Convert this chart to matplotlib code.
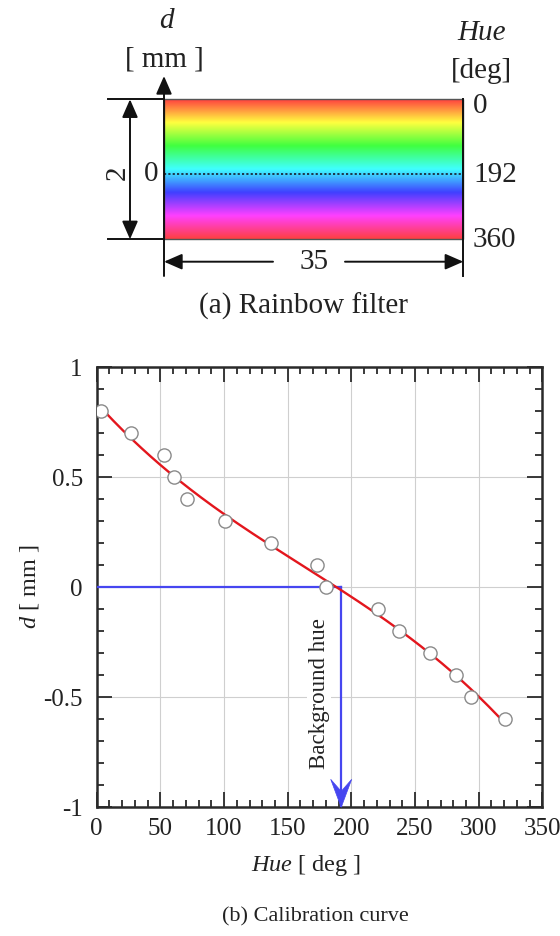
import numpy as np
import matplotlib
matplotlib.use("Agg")
import matplotlib.pyplot as plt
from matplotlib.patches import Rectangle, Polygon
from matplotlib.colors import hsv_to_rgb
from matplotlib.ticker import MultipleLocator
import matplotlib.transforms as mtransforms

plt.rcParams['font.family'] = ['Liberation Serif', 'DejaVu Serif']
plt.rcParams['mathtext.fontset'] = 'custom'
plt.rcParams['mathtext.rm'] = 'Liberation Serif'
plt.rcParams['mathtext.it'] = 'Liberation Serif:italic'

# ---- data ----
filter_width_mm = 35
filter_height_mm = 2
hue_marks = [0, 192, 360]
background_hue = 192

hue_pts = [3, 27, 53, 61, 71, 101, 137, 173, 180, 221, 237, 262, 282, 294, 321]
d_pts = [0.80, 0.70, 0.60, 0.50, 0.40, 0.30, 0.20, 0.10, 0.00,
         -0.10, -0.20, -0.30, -0.40, -0.50, -0.60]
fit_range = [6, 317]

x_ticks = [0, 50, 100, 150, 200, 250, 300, 350]
y_ticks = [-1, -0.5, 0, 0.5, 1]
y_tick_labels = ['-1', '-0.5', '0', '0.5', '1']

W, H = 560, 936
fig = plt.figure(figsize=(W / 100, H / 100), dpi=100)

# ================= (a) rainbow filter diagram =================
TOP_H = 320
ax_a = fig.add_axes([0, 1 - TOP_H / H, 1, TOP_H / H])
ax_a.axis('off')

# filter placement inside the top strip (pixels)
L, R, T, B = 164.0, 463.3, 99.3, 239.3
sx = (R - L) / filter_width_mm
sy = (B - T) / hue_marks[-1]


def mx(px):
    return (px - L) / sx


def hy(py):
    return (py - T) / sy


hue_col = np.linspace(hue_marks[0], hue_marks[-1], 400)
hsv = np.stack([hue_col / 360.0 % 1.0,
                np.full_like(hue_col, 0.75),
                np.ones_like(hue_col)], axis=-1)
rgb = hsv_to_rgb(hsv)[:, None, :]
ax_a.imshow(rgb, extent=[0, filter_width_mm, hue_marks[-1], hue_marks[0]],
            aspect='auto', interpolation='bilinear', zorder=1)
ax_a.add_patch(Rectangle((0, 0), filter_width_mm, hue_marks[-1], fill=False,
                         ec='#555555', lw=1.0, zorder=2))
ax_a.plot([0, filter_width_mm], [background_hue, background_hue],
          color='#1a2a3a', lw=1.3, ls=(0, (1.2, 1.2)), zorder=3)

ax_a.set_xlim(mx(0), mx(W))
ax_a.set_ylim(hy(TOP_H), hy(0))

lk = dict(color='#111111', lw=1.4)
arrow = dict(arrowstyle='-|>,head_length=0.55,head_width=0.24',
             color='#111111', lw=1.4, shrinkA=0, shrinkB=0,
             mutation_scale=20)
darrow = dict(arrowstyle='<|-|>,head_length=0.55,head_width=0.24',
              color='#111111', lw=1.4, shrinkA=0, shrinkB=0,
              mutation_scale=20)

# d axis with arrow
ax_a.annotate('', xy=(0, hy(76)), xytext=(0, hy(276)), arrowprops=arrow)
# right extension line
ax_a.plot([filter_width_mm, filter_width_mm], [0, hy(276)], **lk)
# left extension lines
ax_a.plot([mx(108), 0], [0, 0], **lk)
ax_a.plot([mx(108), 0], [hue_marks[-1], hue_marks[-1]], **lk)
# height dimension
ax_a.annotate('', xy=(mx(130), 0), xytext=(mx(130), hue_marks[-1]),
              arrowprops=darrow)
# width dimension
ax_a.annotate('', xy=(0, hy(261.7)), xytext=(mx(273), hy(261.7)),
              arrowprops=arrow)
ax_a.annotate('', xy=(filter_width_mm, hy(261.7)), xytext=(mx(345), hy(261.7)),
              arrowprops=arrow)

fs_a = 21
tc = '#222222'
ax_a.text(mx(118), hy(173), str(filter_height_mm), rotation=90, fontsize=fs_a,
          ha='center', va='center', color=tc)
ax_a.text(mx(151), background_hue, '0', fontsize=fs_a, ha='center',
          va='center', color=tc)
ax_a.text(mx(166), hy(21), 'd', fontsize=fs_a, style='italic',
          ha='center', va='center', color=tc)
ax_a.text(mx(164), hy(59), '[ mm ]', fontsize=fs_a, ha='center',
          va='center', color=tc)
ax_a.text(mx(482), hy(33), 'Hue', fontsize=fs_a, style='italic',
          ha='center', va='center', color=tc)
ax_a.text(mx(481), hy(71), '[deg]', fontsize=fs_a, ha='center',
          va='center', color=tc)
for h, py in zip(hue_marks, [106, 175, 240]):
    ax_a.text(mx(473), hy(py), str(h), fontsize=fs_a, ha='left',
              va='center', color=tc)
ax_a.text(filter_width_mm / 2, hy(262), str(filter_width_mm), fontsize=fs_a,
          ha='center', va='center', color=tc)
ax_a.text(mx(303), hy(306), '(a) Rainbow filter', fontsize=fs_a,
          ha='center', va='center', color=tc)

# ================= (b) calibration curve =================
ax = fig.add_axes([96.7 / W, 1 - 807.3 / H, 445.7 / W, 440.0 / H])
ax.set_xlim(0, 350)
ax.set_ylim(-1, 1)

coef = np.polyfit(hue_pts, d_pts, 3)
xf = np.linspace(fit_range[0], fit_range[1], 300)
ax.plot(xf, np.polyval(coef, xf), color='#e3161d', lw=1.7, zorder=3)
ax.plot(hue_pts, d_pts, 'o', ms=9.5, mfc='white', mec='#8a8a8a', mew=1.0,
        zorder=4)

blue = '#4646f0'
ax.plot([0, background_hue], [0, 0], color=blue, lw=1.6, zorder=2.6)
notch_in = 0.16
ax.plot([background_hue, background_hue], [0, -1], color=blue, lw=1.6,
        zorder=2.6)
head_tr = fig.dpi_scale_trans + mtransforms.ScaledTranslation(
    background_hue, -1, ax.transData)
ax.add_patch(Polygon([(0, 0), (0.105, 0.28), (0, notch_in), (-0.105, 0.28)],
                     closed=True, transform=head_tr, fc=blue, ec=blue,
                     lw=0.5, zorder=2.7, clip_on=False))

ax.text(174.6, -0.482, 'Background hue', rotation=90, fontsize=16.5,
        ha='center', va='center', color=tc, zorder=2.5,
        bbox=dict(fc='white', ec='none', pad=1.0))

ax.set_xticks(x_ticks)
ax.set_yticks(y_ticks)
ax.set_yticklabels(y_tick_labels)
ax.xaxis.set_minor_locator(MultipleLocator(10))
ax.yaxis.set_minor_locator(MultipleLocator(0.1))
ax.grid(True, which='major', color='#cfcfcf', lw=0.8, zorder=0)
ax.set_axisbelow(True)
ax.tick_params(which='both', direction='in', top=True, right=True,
               width=1.3, color='#2a2a2a', labelcolor=tc, labelsize=18)
ax.tick_params(which='major', length=10.8)
ax.tick_params(which='minor', length=5)
ax.tick_params(axis='x', pad=8)
ax.tick_params(axis='y', pad=10)
for s in ax.spines.values():
    s.set_linewidth(1.8)
    s.set_color('#2a2a2a')

ax.set_xlabel(r'$\mathit{Hue}$ [ deg ]', fontsize=17.5, color=tc, labelpad=6)
ax.xaxis.set_label_coords(0.47, -0.105)
ax.set_ylabel(r'$\mathit{d}$ [ mm ]', fontsize=17.5, color=tc, labelpad=2)

fig.text(315 / W, 1 - 917 / H, '(b) Calibration curve', fontsize=16,
         ha='center', va='center', color=tc)

fig.savefig('out.png', dpi=100)
